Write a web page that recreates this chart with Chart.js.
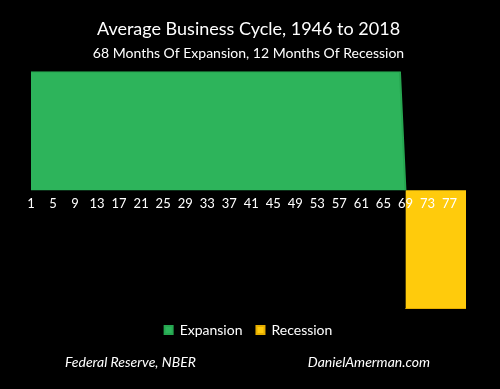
<!DOCTYPE html>
<html>
<head>
  <title>Average Business Cycle</title>
  <script src="https://cdn.jsdelivr.net/npm/chart.js"></script>
  <style>
    body { margin: 0; background: #000; }
    .wrap { width: 500px; height: 389px; position: relative; background: #000; }
  </style>
</head>
<body>
  <div class="wrap">
    <canvas id="cycleChart"></canvas>
  </div>

  <script>
    // months of the average cycle
    const months = [
      1, 2, 3, 4, 5, 6, 7, 8, 9, 10, 11, 12, 13, 14, 15, 16, 17, 18, 19, 20,
      21, 22, 23, 24, 25, 26, 27, 28, 29, 30, 31, 32, 33, 34, 35, 36, 37, 38, 39, 40,
      41, 42, 43, 44, 45, 46, 47, 48, 49, 50, 51, 52, 53, 54, 55, 56, 57, 58, 59, 60,
      61, 62, 63, 64, 65, 66, 67, 68, 69, 70, 71, 72, 73, 74, 75, 76, 77, 78, 79, 80
    ];

    // 68 months up, then drop
    const expansion = [
      1, 1, 1, 1, 1, 1, 1, 1, 1, 1, 1, 1, 1, 1, 1, 1, 1, 1, 1, 1,
      1, 1, 1, 1, 1, 1, 1, 1, 1, 1, 1, 1, 1, 1, 1, 1, 1, 1, 1, 1,
      1, 1, 1, 1, 1, 1, 1, 1, 1, 1, 1, 1, 1, 1, 1, 1, 1, 1, 1, 1,
      1, 1, 1, 1, 1, 1, 1, 1, 0, null, null, null, null, null, null, null, null, null, null, null
    ];

    // 12 months down
    const recession = [
      null, null, null, null, null, null, null, null, null, null, null, null, null, null, null, null, null, null, null, null,
      null, null, null, null, null, null, null, null, null, null, null, null, null, null, null, null, null, null, null, null,
      null, null, null, null, null, null, null, null, null, null, null, null, null, null, null, null, null, null, null, null,
      null, null, null, null, null, null, null, null, -1, -1, -1, -1, -1, -1, -1, -1, -1, -1, -1, -1
    ];

    const shownTicks = [1, 5, 9, 13, 17, 21, 25, 29, 33, 37, 41, 45, 49, 53, 57, 61, 65, 69, 73, 77];

    const footerText = {
      id: 'footerText',
      afterDraw(chart) {
        const ctx = chart.ctx;
        ctx.save();
        ctx.fillStyle = '#ffffff';
        ctx.font = 'italic 14px Lato';
        ctx.textBaseline = 'middle';
        ctx.textAlign = 'left';
        ctx.fillText('Federal Reserve, NBER', 65, 362);
        ctx.textAlign = 'right';
        ctx.fillText('DanielAmerman.com', 430, 362);
        ctx.restore();
      }
    };

    new Chart(document.getElementById('cycleChart').getContext('2d'), {
      type: 'line',
      data: {
        labels: months,
        datasets: [{
          label: 'Expansion',
          data: expansion,
          fill: 'origin',
          backgroundColor: '#2db45b',
          borderColor: '#26a650',
          borderWidth: 2,
          pointRadius: 0,
          tension: 0
        }, {
          label: 'Recession',
          data: recession,
          fill: 'origin',
          backgroundColor: '#ffcb0c',
          borderColor: '#e6ae00',
          borderWidth: 2,
          pointRadius: 0,
          tension: 0
        }]
      },
      options: {
        responsive: true,
        maintainAspectRatio: false,
        animation: false,
        layout: { padding: { left: 31, right: 34, top: 0, bottom: 42 } },
        plugins: {
          title: {
            display: true,
            text: 'Average Business Cycle, 1946 to 2018',
            color: '#ffffff',
            font: { family: 'Lato', size: 18, weight: 'normal' },
            padding: { top: 18, bottom: 3 }
          },
          subtitle: {
            display: true,
            text: '68 Months Of Expansion, 12 Months Of Recession',
            color: '#ffffff',
            font: { family: 'Lato', size: 14, weight: 'normal' },
            padding: { top: 2, bottom: 10 }
          },
          legend: {
            position: 'bottom',
            labels: {
              color: '#ffffff',
              font: { family: 'Lato', size: 14 },
              boxWidth: 8,
              boxHeight: 8,
              padding: 14,
              sort: (a, b) => a.datasetIndex - b.datasetIndex
            }
          },
          tooltip: { enabled: false }
        },
        scales: {
          x: {
            position: { y: 0 },
            offset: false,
            grid: { display: false, drawTicks: false },
            border: { display: false },
            ticks: {
              z: 1,
              color: '#ffffff',
              font: { family: 'Lato', size: 13 },
              autoSkip: false,
              maxRotation: 0,
              padding: 6,
              callback: function (value, index) {
                const m = months[index];
                return shownTicks.includes(m) ? String(m) : '';
              }
            }
          },
          y: {
            display: false,
            min: -1,
            max: 1
          }
        }
      },
      plugins: [footerText]
    });
  </script>
</body>
</html>
